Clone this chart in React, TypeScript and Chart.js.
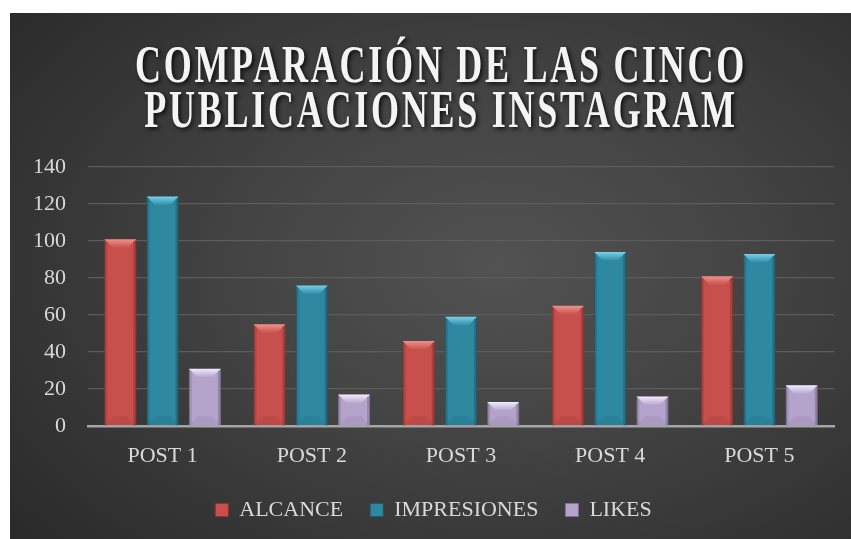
import React, { useEffect, useRef } from "react";
import { Chart, registerables } from "chart.js";

Chart.register(...registerables);

const categories = ["POST 1", "POST 2", "POST 3", "POST 4", "POST 5"];
const seriesNames = ["ALCANCE", "IMPRESIONES", "LIKES"];
const alcance = [101, 55, 46, 65, 81];
const impresiones = [124, 76, 59, 94, 93];
const likes = [31, 17, 13, 16, 22];
const yMin = 0;
const yMax = 140;
const yStep = 20;
const titleLines = ["COMPARACIÓN DE LAS CINCO", "PUBLICACIONES INSTAGRAM"];

const faceColors = ["#c8504c", "#2e88a0", "#b4a3cb"];
const topColors = ["#f0918c", "#73d2ea", "#f3ecff"];
const edgeColors = ["#8e3431", "#1d5c6d", "#7f7294"];

const FONT = "'Liberation Serif', 'Times New Roman', serif";

const bevelPlugin = {
  id: "bevel",
  afterDatasetsDraw(chart: any) {
    const ctx = chart.ctx as CanvasRenderingContext2D;
    chart.data.datasets.forEach((_ds: any, di: number) => {
      const meta = chart.getDatasetMeta(di);
      meta.data.forEach((bar: any) => {
        const { x, y, base, width } = bar.getProps(["x", "y", "base", "width"], true);
        const l = x - width / 2;
        const r = x + width / 2;
        const t = y;
        const b = base;
        const h = b - t;
        const bv = Math.min(9, h / 2);
        ctx.save();
        const g = ctx.createLinearGradient(0, t, 0, t + bv);
        g.addColorStop(0, topColors[di]);
        g.addColorStop(1, faceColors[di]);
        ctx.beginPath();
        ctx.moveTo(l, t);
        ctx.lineTo(r, t);
        ctx.lineTo(r - bv, t + bv);
        ctx.lineTo(l + bv, t + bv);
        ctx.closePath();
        ctx.fillStyle = g;
        ctx.fill();
        const side = 3;
        ctx.globalAlpha = 0.35;
        ctx.fillStyle = edgeColors[di];
        ctx.fillRect(l, t + 2, side, h - 2);
        ctx.globalAlpha = 0.55;
        ctx.fillRect(r - side, t + 2, side, h - 2);
        ctx.globalAlpha = 0.18;
        ctx.beginPath();
        ctx.moveTo(l, b);
        ctx.lineTo(l + bv, b - bv);
        ctx.lineTo(r - bv, b - bv);
        ctx.lineTo(r, b);
        ctx.closePath();
        ctx.fillStyle = edgeColors[di];
        ctx.fill();
        ctx.restore();
      });
    });
  },
};

const titlePlugin = {
  id: "stretchedTitle",
  afterDraw(chart: any) {
    const ctx = chart.ctx as CanvasRenderingContext2D;
    ctx.save();
    ctx.font = `bold 53px ${FONT}`;
    (ctx as any).letterSpacing = "4px";
    ctx.textAlign = "center";
    ctx.textBaseline = "alphabetic";
    ctx.fillStyle = "#f4f4f4";
    ctx.shadowColor = "rgba(0,0,0,0.8)";
    ctx.shadowBlur = 4;
    ctx.shadowOffsetX = 2;
    ctx.shadowOffsetY = 2;
    const cx = 431;
    const baselines = [69, 114];
    titleLines.forEach((line, i) => {
      ctx.save();
      ctx.translate(cx, baselines[i]);
      ctx.scale(0.68, 1);
      ctx.fillText(line, 0, 0);
      ctx.restore();
    });
    ctx.restore();
  },
};

export default function App() {
  const canvasRef = useRef<HTMLCanvasElement | null>(null);

  useEffect(() => {
    document.body.style.margin = "0";
    document.body.style.overflow = "hidden";
    const canvas = canvasRef.current;
    if (!canvas) return;
    const values = [alcance, impresiones, likes];
    const chart = new Chart(canvas, {
      type: "bar",
      data: {
        labels: categories,
        datasets: seriesNames.map((name, i) => ({
          label: name,
          data: values[i],
          backgroundColor: faceColors[i],
          borderColor: edgeColors[i],
          borderWidth: 1,
          categoryPercentage: 0.85,
          barPercentage: 0.757,
        })),
      },
      options: {
        animation: false,
        responsive: true,
        maintainAspectRatio: false,
        layout: { padding: { top: 154, left: 23, right: 17, bottom: 8 } },
        plugins: {
          title: { display: false },
          tooltip: { enabled: false },
          legend: {
            display: true,
            position: "bottom",
            labels: {
              boxWidth: 13,
              boxHeight: 13,
              padding: 27,
              color: "#d9d9d9",
              font: { family: FONT, size: 22 },
            },
          },
        },
        scales: {
          x: {
            grid: { display: false, drawTicks: false },
            border: { display: true, color: "#a6a6a6", width: 2.5 },
            ticks: {
              color: "#d9d9d9",
              padding: 17,
              font: { family: FONT, size: 22 },
            },
            afterFit: (axis: any) => {
              axis.height = 46;
            },
          },
          y: {
            min: yMin,
            max: yMax,
            grid: { color: "#5c5c5c", lineWidth: 1.3, drawTicks: false },
            border: { display: false },
            ticks: {
              stepSize: yStep,
              color: "#d9d9d9",
              padding: 22,
              font: { family: FONT, size: 22 },
            },
            afterFit: (axis: any) => {
              axis.width = 55;
            },
          },
        },
      },
      plugins: [bevelPlugin, titlePlugin],
    });
    return () => chart.destroy();
  }, []);

  return (
    <div
      style={{
        position: "fixed",
        left: 10,
        top: 13,
        width: 841,
        height: 526,
        background:
          "radial-gradient(ellipse 75% 80% at 58% 48%, #525252 0%, #444444 40%, #2a2a2a 100%)",
      }}
    >
      <canvas ref={canvasRef} />
    </div>
  );
}
